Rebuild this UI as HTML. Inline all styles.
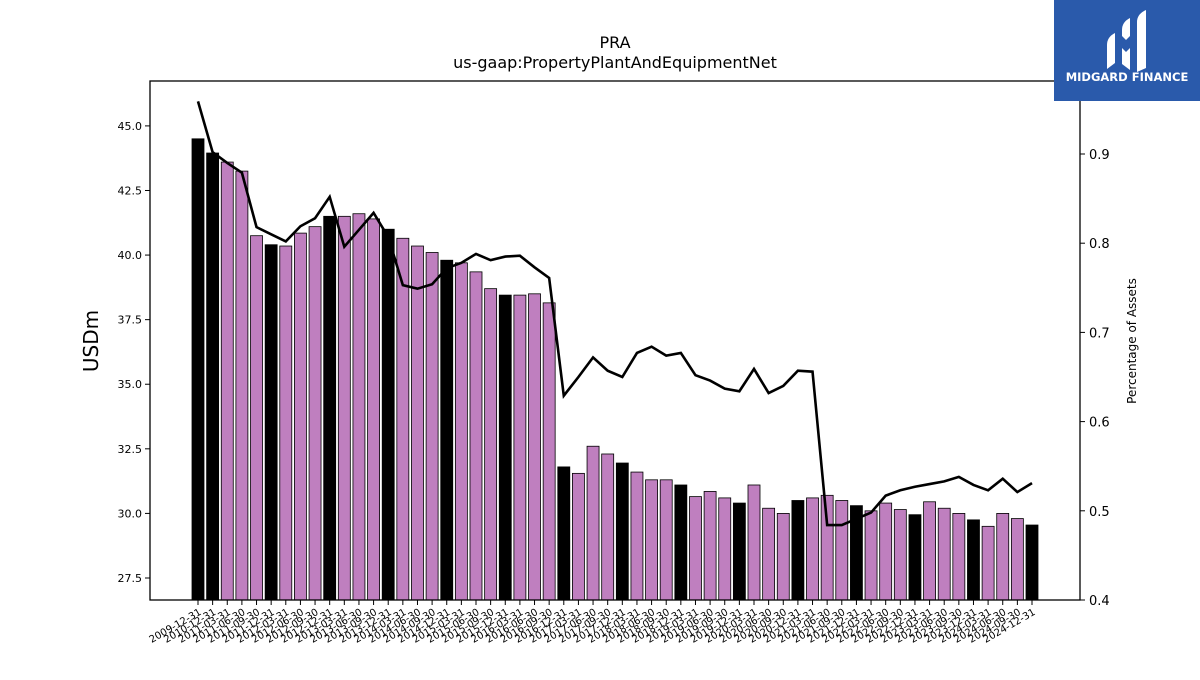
<!DOCTYPE html>
<html><head><meta charset="utf-8"><style>
body{margin:0;background:#fff;}
svg text{font-family:"DejaVu Sans","Liberation Sans",sans-serif;}
</style></head><body>
<svg id="c" width="1200" height="675" xmlns="http://www.w3.org/2000/svg">
<rect width="1200" height="675" fill="#fff"/>
<text x="615" y="48" font-size="16" text-anchor="middle">PRA</text>
<text x="615" y="68" font-size="16" text-anchor="middle">us-gaap:PropertyPlantAndEquipmentNet</text>
<text transform="translate(98,341) rotate(-90)" font-size="20" text-anchor="middle">USDm</text>
<text transform="translate(1136,341) rotate(-90)" font-size="12" text-anchor="middle">Percentage of Assets</text>
<g id="bars"></g><g id="line"></g><g id="axes"></g>
<rect x="150" y="81" width="930" height="519" fill="none" stroke="#000" stroke-width="1.3"/>
<g>
<rect x="1054" y="0" width="146" height="101" fill="#2a5aab"/>
<path d="M1107 45 q0-8 8-12 v30 l-8 6z M1122 30 q0-8 8-12 v18 l-4 4 l-4-4z M1122 48 l4 4 l4-4 v22 l-8-6z M1137 22 q0-8 9-12 v58 l-9 4z" fill="#fff"/>
<text x="1127" y="81" font-size="11.5" font-weight="bold" fill="#fff" text-anchor="middle" font-family="Liberation Sans">MIDGARD FINANCE</text>
</g>
</svg>
<script>
const dates=["2009-12-31","2010-12-31"];
for(let y=2011;y<=2024;y++){["03-31","06-30","09-30","12-31"].forEach(q=>dates.push(y+"-"+q));}
const values=[44.5,43.95,43.6,43.25,40.75,40.4,40.35,40.85,41.1,41.5,41.5,41.6,41.4,41.0,40.65,40.35,40.1,39.8,39.7,39.35,38.7,38.45,38.45,38.5,38.15,31.8,31.55,32.6,32.3,31.95,31.6,31.3,31.3,31.1,30.65,30.85,30.6,30.4,31.1,30.2,30.0,30.5,30.6,30.7,30.5,30.3,30.1,30.4,30.15,29.95,30.45,30.2,30.0,29.75,29.5,30.0,29.8,29.55];
const pct=[0.959,0.902,0.890,0.879,0.818,0.810,0.802,0.819,0.828,0.852,0.796,0.815,0.834,0.807,0.753,0.749,0.754,0.772,0.778,0.788,0.781,0.785,0.786,0.773,0.761,0.629,0.650,0.672,0.657,0.650,0.677,0.684,0.674,0.677,0.652,0.646,0.637,0.634,0.659,0.632,0.640,0.657,0.656,0.484,0.484,0.491,0.498,0.517,0.523,0.527,0.530,0.533,0.538,0.529,0.523,0.536,0.521,0.531];
const leftTicks=[27.5,30.0,32.5,35.0,37.5,40.0,42.5,45.0];
const rightTicks=[0.4,0.5,0.6,0.7,0.8,0.9];
const NS="http://www.w3.org/2000/svg";
const yL=v=>600-(v-26.648)*(519/20.09);
const yR=v=>600-(v-0.4)*892;
const xB=i=>198+i*(834/(dates.length-1));
function mk(t,a,p){const e=document.createElementNS(NS,t);for(const k in a)e.setAttribute(k,a[k]);p.appendChild(e);return e;}
const bars=document.getElementById('bars'),line=document.getElementById('line'),axes=document.getElementById('axes');
values.forEach((v,i)=>{
 const q4=dates[i].endsWith("12-31");
 const r=mk('rect',{x:xB(i)-6,y:yL(v),width:12,height:600-yL(v),fill:q4?'#000':'#bf7fbf',stroke:'#000','stroke-width':0.8},bars);
 
 
 const t=mk('line',{x1:xB(i),x2:xB(i),y1:600,y2:605,stroke:'#000'},axes);
 
 
 const l=mk('text',{'font-size':10,'text-anchor':'end',transform:`translate(${xB(i)+4},${614}) rotate(-30)`},axes);
 l.textContent=dates[i];
 
 
});
const pl=mk('polyline',{points:pct.map((v,i)=>xB(i)+','+yR(v)).join(' '),fill:'none',stroke:'#000','stroke-width':2.6},line);


leftTicks.forEach(v=>{
 mk('line',{x1:145,x2:150,y1:yL(v),y2:yL(v),stroke:'#000'},axes);
 const t=mk('text',{x:142,y:yL(v)+4,'font-size':11,'text-anchor':'end'},axes);
 t.textContent=v.toFixed(1);
 
 
});
rightTicks.forEach(v=>{
 mk('line',{x1:1080,x2:1085,y1:yR(v),y2:yR(v),stroke:'#000'},axes);
 const t=mk('text',{x:1089,y:yR(v)+5,'font-size':13},axes);
 t.textContent=v.toFixed(1);
 
 
});
</script>
</body></html>
